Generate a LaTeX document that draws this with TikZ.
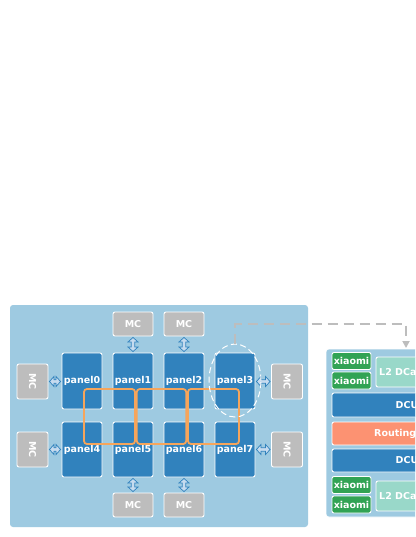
\documentclass[tikz,border=0pt]{standalone}
\usepackage{fontspec}
\setmainfont{DejaVu Sans}
\usetikzlibrary{arrows.meta,shapes.geometric,calc}
\definecolor{bgblue}{HTML}{9ECAE1}
\definecolor{pblue}{HTML}{3182BD}
\definecolor{mcgray}{HTML}{BDBDBD}
\definecolor{ringor}{HTML}{F6A55B}
\definecolor{xgreen}{HTML}{31A354}
\definecolor{l2teal}{HTML}{99D8C9}
\definecolor{routsal}{HTML}{FC9272}
\definecolor{arrfill}{HTML}{C6DBEF}
\definecolor{dashgray}{HTML}{BDBDBD}
\tikzset{
  box/.style={draw=white, line width=0.9pt, rounded corners=2pt, inner sep=0pt, text=white, font=\fontsize{9.5}{11}\selectfont\bfseries},
  panelbox/.style={box, fill=pblue, minimum width=40pt, minimum height=56pt},
  mch/.style={box, fill=mcgray, minimum width=40pt, minimum height=24pt},
  mcv/.style={box, fill=mcgray, minimum width=31pt, minimum height=35pt},
  xbox/.style={box, fill=xgreen, minimum width=39pt, minimum height=17pt},
  lbl/.style={anchor=west, inner sep=0pt, text=white, font=\fontsize{9.5}{11}\selectfont\bfseries},
  dblarr/.style={draw=pblue, fill=arrfill, line width=0.7pt, line join=miter,
    to path={let \p1=(\tikztostart), \p2=(\tikztotarget), \n1={atan2(\y2-\y1,\x2-\x1)}, \n2={veclen(\x2-\x1,\y2-\y1)} in
      [shift={(\p1)}, rotate=\n1] (0pt,0pt) -- (4.5pt,5pt) -- (4.5pt,1.8pt) -- (\n2*1pt-4.5pt,1.8pt) -- (\n2*1pt-4.5pt,5pt) -- (\n2*1pt,0pt) -- (\n2*1pt-4.5pt,-5pt) -- (\n2*1pt-4.5pt,-1.8pt) -- (4.5pt,-1.8pt) -- (4.5pt,-5pt) -- cycle}},
  ring/.style={draw=ringor, line width=1.8pt, rounded corners=3pt},
  graydash/.style={draw=dashgray, line width=1.8pt, dash pattern=on 10pt off 6pt, -{Triangle[length=7pt,width=7pt]}},
}
\begin{document}
\begin{tikzpicture}[x=1pt,y=-1pt]
\useasboundingbox (0,0) rectangle (415,537);
\fill[white] (0,0) rectangle (415,537);
\clip (0,0) rectangle (415,537);
% big box
\node[fill=bgblue, rounded corners=3pt, minimum width=298pt, minimum height=222pt, inner sep=0pt] (big) at (159,416) {};
% right box
\node[fill=bgblue, draw=white, line width=0.6pt, rounded corners=3pt, minimum width=170pt, minimum height=168pt, inner sep=0pt] (rb) at (411,433) {};
% panels
\node[panelbox] (p0) at (82,381) {panel0};
\node[panelbox] (p1) at (133,381) {panel1};
\node[panelbox] (p2) at (184,381) {panel2};
\node[panelbox] (p3) at (235,381) {panel3};
\node[panelbox, minimum height=55pt] (p4) at (82,449.5) {panel4};
\node[panelbox, minimum height=55pt] (p5) at (133,449.5) {panel5};
\node[panelbox, minimum height=55pt] (p6) at (184,449.5) {panel6};
\node[panelbox, minimum height=55pt] (p7) at (235,449.5) {panel7};
% MCs
\node[mch] (mt1) at (133,324) {MC};
\node[mch] (mt2) at (184,324) {MC};
\node[mch] (mb1) at (133,505) {MC};
\node[mch] (mb2) at (184,505) {MC};
\node[mcv] (ml1) at (32.5,381.5) {\rotatebox{-90}{MC}};
\node[mcv] (ml2) at (32.5,449.5) {\rotatebox{-90}{MC}};
\node[mcv] (mr1) at (287,381.5) {\rotatebox{-90}{MC}};
\node[mcv] (mr2) at (287,449.5) {\rotatebox{-90}{MC}};
% arrows
\draw[dblarr] ($(mt1.south)+(0,1)$) to ($(p1.north)+(0,-1)$);
\draw[dblarr] ($(mt2.south)+(0,1)$) to ($(p2.north)+(0,-1)$);
\draw[dblarr] ($(p5.south)+(0,1)$) to ($(mb1.north)+(0,-1)$);
\draw[dblarr] ($(p6.south)+(0,1)$) to ($(mb2.north)+(0,-1)$);
\draw[dblarr] ($(ml1.east)+(1,0)$) to ($(p0.west |- ml1.east)+(-1,0)$);
\draw[dblarr] ($(ml2.east)+(1,0)$) to ($(p4.west |- ml2.east)+(-1,0)$);
\draw[dblarr] ($(p3.east |- mr1.west)+(1,0)$) to ($(mr1.west)+(-1,0)$);
\draw[dblarr] ($(p7.east |- mr2.west)+(1,0)$) to ($(mr2.west)+(-1,0)$);
% ring
\draw[ring] (84,389) rectangle (135,444);
\draw[ring] (136.8,389) rectangle (186.2,444);
\draw[ring] (188,389) rectangle (239,444);
% ellipse
\node[ellipse, draw=white, dash pattern=on 6pt off 3.5pt, line width=1pt, minimum width=52pt, minimum height=73pt, inner sep=0pt] (ell) at (235,380.5) {};
% right box content
\node[xbox] (x1) at (351.5,361) {xiaomi};
\node[xbox] (x2) at (351.5,380.5) {xiaomi};
\node[box, fill=l2teal, minimum width=90pt, minimum height=30pt] (l2a) at (421,372) {};
\node[lbl] (l2at) at (379,372) {L2 DCache};
\node[box, fill=pblue, minimum width=150pt, minimum height=24pt] (dcu1) at (407,405) {DCU};
\node[box, fill=routsal, minimum width=150pt, minimum height=23pt] (rt) at (407,433.5) {};
\node[lbl] (rtt) at (374,433.5) {Routing};
\node[box, fill=pblue, minimum width=150pt, minimum height=23pt] (dcu2) at (407,460.5) {DCU};
\node[xbox] (x3) at (351.5,485) {xiaomi};
\node[xbox] (x4) at (351.5,504.5) {xiaomi};
\node[box, fill=l2teal, minimum width=90pt, minimum height=30pt] (l2b) at (421,496) {};
\node[lbl] (l2bt) at (379,496) {L2 DCache};
% dashed connector
\coordinate (bend) at (406,324);
\coordinate (tgt) at (406,348);
\draw[graydash] (ell.north) |- (bend) -- (tgt);
\end{tikzpicture}
\end{document}
